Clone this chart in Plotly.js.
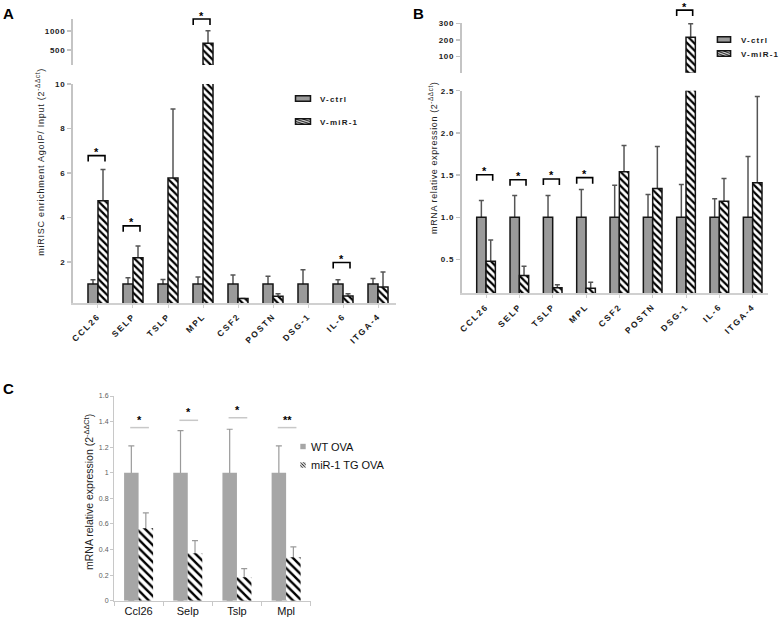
<!DOCTYPE html>
<html><head><meta charset="utf-8">
<script src="https://cdn.plot.ly/plotly-3.0.1.min.js"></script>
<style>
body{margin:0;padding:0;background:#fff}
#chart{width:780px;height:622px}
.xtick text,.x3tick text{letter-spacing:1.8px}
.ytick text,.y2tick text,.y3tick text,.y4tick text{letter-spacing:0.7px}
g.legend text, g.legend2 text{letter-spacing:1.2px}
g.annotation[data-index="3"] text{letter-spacing:0.75px}
g.annotation[data-index="4"] text{letter-spacing:0.6px}
.legendpoints path{vector-effect:non-scaling-stroke}
</style></head><body><div id="chart"></div>
<script>
// ---------- Panel A ----------
const catsA = ['CCL26','SELP','TSLP','MPL','CSF2','POSTN','DSG-1','IL-6','ITGA-4'];
const ctrlA = [1, 1, 1, 1, 1, 1, 1, 1, 1];
const ctrlErrA = [0.2, 0.29, 0.21, 0.32, 0.41, 0.35, 0.65, 0.2, 0.25];
const mirA = [4.75, 2.19, 5.77, 676, 0.35, 0.45, null, 0.46, 0.87];
const mirErrA = [1.4, 0.52, 3.1, 332, 0, 0.12, null, 0.11, 0.67];
const sigIdxA = [0, 1, 3, 7];
const sigYA = [6.78, 3.62, 1316, 1.97];
const sigSegA = ['low', 'low', 'up', 'low'];
const sigLabA = ['*', '*', '*', '*'];

// ---------- Panel B ----------
const catsB = ['CCL26','SELP','TSLP','MPL','CSF2','POSTN','DSG-1','IL-6','ITGA-4'];
const ctrlB = [1, 1, 1, 1, 1, 1, 1, 1, 1];
const ctrlErrB = [0.2, 0.26, 0.26, 0.33, 0.38, 0.27, 0.39, 0.22, 0.72];
const mirB = [0.48, 0.31, 0.165, 0.16, 1.54, 1.34, 216, 1.19, 1.41];
const mirErrB = [0.25, 0.11, 0.035, 0.07, 0.31, 0.5, 81, 0.27, 1.02];
const sigIdxB = [0, 1, 2, 3, 6];
const sigYB = [1.505, 1.445, 1.454, 1.47, 380];
const sigSegB = ['low', 'low', 'low', 'low', 'up'];
const sigLabB = ['*', '*', '*', '*', '*'];

// ---------- Panel C ----------
const catsC = ['Ccl26', 'Selp', 'Tslp', 'Mpl'];
const wtC = [1, 1, 1, 1];
const wtErrC = [0.21, 0.33, 0.34, 0.21];
const tgC = [0.566, 0.37, 0.183, 0.34];
const tgErrC = [0.12, 0.1, 0.067, 0.08];
const sigYC = [1.353, 1.41, 1.43, 1.353];
const sigLabC = ['*', '*', '*', '**'];

// ---------- geometry (pixels) ----------
const W = 780, H = 622;
const px = x => x / W, py = y => 1 - y / H;
const AX = {
  xA: {dom: [73, 396], range: [-0.714, 8.514]},
  yA: {dom: [303, 84], range: [0.15, 10]},
  yA2: {dom: [65, 19], range: [105, 1316]},
  xB: {dom: [461.7, 768], range: [-0.73, 8.46]},
  yB: {dom: [293.3, 90.7], range: [0.1, 2.5]},
  yB2: {dom: [72.7, 22.7], range: [3, 304]},
  xC: {dom: [114, 310.7], range: [-0.5, 3.5]},
  yC: {dom: [600.7, 396], range: [0, 1.6]}
};
function toPx(ax, v) {
  return ax.dom[0] + (v - ax.range[0]) / (ax.range[1] - ax.range[0]) * (ax.dom[1] - ax.dom[0]);
}
const xdom = a => [px(a.dom[0]), px(a.dom[1])];
const ydom = a => [py(a.dom[0]), py(a.dom[1])];

const FONT = 'Liberation Sans, Arial, sans-serif';
const axisGray = '#c4c4c4';
const idxA = catsA.map((_, i) => i);
const idxB = catsB.map((_, i) => i);
const idxC = catsC.map((_, i) => i);
// values shown in an upper (broken-axis) segment: only those reaching into it
const inUpper = (vals, lo) => vals.map(v => (v != null && v > lo) ? v : null);
// error bars run from the baseline up; the opaque bar drawn above hides the part inside it
const downTo0 = vals => vals.map(v => (v == null ? 0 : v));

// error-bar carrier (drawn first, underneath) + visible bar
function errCarrier(idx, vals, errs, xa, ya, w, off, col, th, cw) {
  return {type: 'bar', x: idx, y: vals, xaxis: xa, yaxis: ya, width: w, offset: off,
    showlegend: false, hoverinfo: 'skip', marker: {color: 'rgba(0,0,0,0)', line: {width: 0}},
    error_y: {type: 'data', array: errs, arrayminus: downTo0(vals), symmetric: false,
      color: col, thickness: th, width: cw}};
}

function barSet(idx, ctrl, ctrlErr, mir, mirErr, xa, ya, w, legendId, names, showLeg, grp) {
  const common = {type: 'bar', x: idx, xaxis: xa, yaxis: ya, width: w, legend: legendId, hoverinfo: 'skip'};
  return [
    errCarrier(idx, ctrl, ctrlErr, xa, ya, w, -w, '#555555', 1.5, 2.5),
    errCarrier(idx, mir, mirErr, xa, ya, w, 0, '#555555', 1.5, 2.5),
    Object.assign({}, common, {
      y: ctrl, name: names[0], offset: -w, showlegend: showLeg, legendgroup: grp + '1',
      marker: {color: '#9a9a9a', line: {color: '#151515', width: 1.5}}
    }),
    Object.assign({}, common, {
      y: mir, name: names[1], offset: 0, showlegend: showLeg, legendgroup: grp + '2',
      marker: {color: '#ffffff', line: {color: '#151515', width: 1.5},
        pattern: {shape: '\\', fgcolor: '#000000', bgcolor: '#ffffff', size: 5, solidity: 0.45}}
    })
  ];
}

const traces = [].concat(
  barSet(idxA, ctrlA, ctrlErrA, mirA, mirErrA, 'x', 'y', 0.286, 'legend', ['V-ctrl', 'V-miR-1'], true, 'a'),
  barSet(idxA, inUpper(ctrlA, AX.yA2.range[0]), ctrlErrA, inUpper(mirA, AX.yA2.range[0]), mirErrA,
    'x2', 'y2', 0.286, 'legend', ['V-ctrl', 'V-miR-1'], false, 'a'),
  barSet(idxB, ctrlB, ctrlErrB, mirB, mirErrB, 'x3', 'y3', 0.28, 'legend2', ['V-ctrl', 'V-miR-1'], true, 'b'),
  barSet(idxB, inUpper(ctrlB, AX.yB2.range[0]), ctrlErrB, inUpper(mirB, AX.yB2.range[0]), mirErrB,
    'x4', 'y4', 0.28, 'legend2', ['V-ctrl', 'V-miR-1'], false, 'b'),
  [
    errCarrier(idxC, wtC, wtErrC, 'x5', 'y5', 0.295, -0.295, '#9a9a9a', 1.2, 3),
    errCarrier(idxC, tgC, tgErrC, 'x5', 'y5', 0.295, 0, '#9a9a9a', 1.2, 3),
    {type: 'bar', x: idxC, y: wtC, xaxis: 'x5', yaxis: 'y5', width: 0.295, offset: -0.295,
      name: 'WT OVA', legend: 'legend3', legendgroup: 'c1', hoverinfo: 'skip',
      marker: {color: '#a6a6a6', line: {width: 0}}},
    {type: 'bar', x: idxC, y: tgC, xaxis: 'x5', yaxis: 'y5', width: 0.295, offset: 0,
      name: 'miR-1 TG OVA', legend: 'legend3', legendgroup: 'c2', hoverinfo: 'skip',
      marker: {color: '#ffffff', line: {width: 0},
        pattern: {shape: '\\', fgcolor: '#000000', bgcolor: '#ffffff', size: 6, solidity: 0.4}}}
  ]
);

const tickFontAB = {family: FONT, size: 8, color: '#1a1a1a', weight: 'bold'};
function yAxisAB(a, anchor, tickvals, fmt) {
  return {domain: ydom(a), range: a.range, anchor: anchor, showgrid: false, zeroline: false,
    showline: true, linecolor: axisGray, linewidth: 2, ticks: 'outside', ticklen: 4,
    tickcolor: axisGray, tickwidth: 1.5, tickvals: tickvals, tickformat: fmt || '',
    tickfont: tickFontAB, fixedrange: true};
}
function xAxisAB(a, anchor, idx, cats) {
  return {domain: xdom(a), range: a.range, anchor: anchor, showgrid: false, zeroline: false,
    showline: true, linecolor: '#d0d0d0', linewidth: 2, ticks: 'outside', ticklen: 3,
    tickcolor: '#d0d0d0', tickvals: idx, ticktext: cats, tickangle: -45,
    tickfont: {family: FONT, size: 8.5, color: '#1a1a1a', weight: 'bold'}, fixedrange: true};
}

// significance brackets / stars
const shapes = [];
const annotations = [
  {text: '<b>A</b>', x: px(8), y: py(14)},
  {text: '<b>B</b>', x: px(418), y: py(14)},
  {text: '<b>C</b>', x: px(8), y: py(388)},
  {text: 'miRISC enrichment AgoIP/ Input (2<sup>-ΔΔct</sup>)', x: px(40), y: py(162), textangle: -90,
    font: {family: FONT, size: 9, color: '#222'}},
  {text: 'mRNA relative expression (2<sup>-ΔΔct</sup>)', x: px(433), y: py(158), textangle: -90,
    font: {family: FONT, size: 9, color: '#222'}},
  {text: 'mRNA relative expression (2<sup>-ΔΔCt</sup>)', x: px(88), y: py(492), textangle: -90,
    font: {family: FONT, size: 10.5, color: '#222'}}
].map(a => Object.assign({xref: 'paper', yref: 'paper', showarrow: false, xanchor: 'center', yanchor: 'middle',
  font: {family: FONT, size: 15, color: '#000'}}, a));

const starFont = {family: FONT, size: 11, color: '#000', weight: 'bold'};
function addBrackets(idxs, ys, segs, labs, xa, yLow, yUp) {
  idxs.forEach((ci, k) => {
    const ya = segs[k] === 'up' ? yUp : yLow;
    const x0 = px(toPx(xa, ci - 0.28)), x1 = px(toPx(xa, ci + 0.2));
    const yb = toPx(ya, ys[k]);
    shapes.push({type: 'path', xref: 'paper', yref: 'paper',
      path: `M ${x0},${py(yb + 6)} L ${x0},${py(yb)} L ${x1},${py(yb)} L ${x1},${py(yb + 6)}`,
      line: {color: '#000', width: 1.6}});
    annotations.push({xref: 'paper', yref: 'paper', showarrow: false, xanchor: 'center', yanchor: 'middle',
      x: (x0 + x1) / 2, y: py(yb - 3.5), text: labs[k], font: starFont});
  });
}
addBrackets(sigIdxA, sigYA, sigSegA, sigLabA, AX.xA, AX.yA, AX.yA2);
addBrackets(sigIdxB, sigYB, sigSegB, sigLabB, AX.xB, AX.yB, AX.yB2);
idxC.forEach((ci, k) => {
  const x0 = px(toPx(AX.xC, ci - 0.17)), x1 = px(toPx(AX.xC, ci + 0.21));
  const yb = toPx(AX.yC, sigYC[k]);
  shapes.push({type: 'line', xref: 'paper', yref: 'paper', x0: x0, x1: x1, y0: py(yb), y1: py(yb),
    line: {color: '#c8c8c8', width: 1.5}});
  annotations.push({xref: 'paper', yref: 'paper', showarrow: false, xanchor: 'center', yanchor: 'middle',
    x: (x0 + x1) / 2, y: py(yb - 8), text: sigLabC[k], font: starFont});
});

const layout = {
  width: W, height: H, margin: {l: 0, r: 0, t: 0, b: 0},
  paper_bgcolor: '#fff', plot_bgcolor: 'rgba(0,0,0,0)', barmode: 'overlay',
  font: {family: FONT},
  xaxis: xAxisAB(AX.xA, 'y', idxA, catsA),
  yaxis: yAxisAB(AX.yA, 'x', [2, 4, 6, 8, 10]),
  xaxis2: {domain: xdom(AX.xA), range: AX.xA.range, anchor: 'y2', visible: false, fixedrange: true},
  yaxis2: yAxisAB(AX.yA2, 'x2', [500, 1000]),
  xaxis3: xAxisAB(AX.xB, 'y3', idxB, catsB),
  yaxis3: yAxisAB(AX.yB, 'x3', [0.5, 1, 1.5, 2, 2.5], '.1f'),
  xaxis4: {domain: xdom(AX.xB), range: AX.xB.range, anchor: 'y4', visible: false, fixedrange: true},
  yaxis4: yAxisAB(AX.yB2, 'x4', [100, 200, 300]),
  xaxis5: {domain: xdom(AX.xC), range: AX.xC.range, anchor: 'y5', showgrid: false, zeroline: false,
    showline: true, linecolor: '#c8c8c8', linewidth: 1, ticks: '', tickvals: idxC, ticktext: catsC,
    tickfont: {family: FONT, size: 11, color: '#111'},
    minor: {tickmode: 'array', tickvals: [-0.5, 0.5, 1.5, 2.5, 3.5], ticks: 'outside', ticklen: 4, tickcolor: '#c8c8c8'},
    fixedrange: true},
  yaxis5: {domain: ydom(AX.yC), range: AX.yC.range, anchor: 'x5', showgrid: false, zeroline: false,
    showline: true, linecolor: '#c8c8c8', linewidth: 1, ticks: 'outside', ticklen: 3, tickcolor: '#c8c8c8',
    dtick: 0.2, tick0: 0, tickfont: {family: FONT, size: 7, color: '#606060'}, fixedrange: true},
  legend: {x: px(283), y: py(84), xanchor: 'left', yanchor: 'top', bgcolor: 'rgba(0,0,0,0)',
    font: {family: FONT, size: 8, color: '#1a1a1a', weight: 'bold'}, tracegroupgap: 0, itemwidth: 30},
  legend2: {x: px(704), y: py(25), xanchor: 'left', yanchor: 'top', bgcolor: 'rgba(0,0,0,0)',
    font: {family: FONT, size: 8, color: '#1a1a1a', weight: 'bold'}, tracegroupgap: 0, itemwidth: 30},
  legend3: {x: px(283), y: py(432), xanchor: 'left', yanchor: 'top', bgcolor: 'rgba(0,0,0,0)',
    font: {family: FONT, size: 11, color: '#111'}, tracegroupgap: 0, itemwidth: 30},
  shapes: shapes,
  annotations: annotations
};

// legend fine-tuning: entry spacing, icon proportions, text start (page px)
const legendTweaks = {
  legend: {spacing: 23, scale: [1.25, 0.45], textLeft: 320},
  legend2: {spacing: 14, scale: [1.1, 0.45], textLeft: 741},
  legend3: {spacing: 18.5, scale: [0.45, 0.45], textLeft: 311}
};
function tweakLegends() {
  const host = document.getElementById('chart').getBoundingClientRect();
  Object.keys(legendTweaks).forEach(id => {
    const cfg = legendTweaks[id];
    const g = document.querySelector('g.' + id);
    if (!g) return;
    const items = g.querySelectorAll('g.traces');
    let y0 = null;
    items.forEach((it, k) => {
      const tr = it.getAttribute('transform') || '';
      const m = tr.match(/translate\(([-\d.]+)[ ,]+([-\d.]+)\)/);
      if (m) {
        if (y0 === null) y0 = parseFloat(m[2]);
        it.setAttribute('transform', `translate(${m[1]},${y0 + k * cfg.spacing})`);
      }
      it.querySelectorAll('.legendpoints path').forEach(p => {
        const t = p.getAttribute('transform') || '';
        p.setAttribute('transform', t + ` scale(${cfg.scale[0]},${cfg.scale[1]})`);
      });
      const txt = it.querySelector('text');
      if (txt) {
        const r = txt.getBoundingClientRect();
        if (r.width > 0) {
          const shift = cfg.textLeft - (r.left - host.left);
          const old = txt.getAttribute('transform') || '';
          txt.setAttribute('transform', `translate(${shift},0) ` + old);
        }
      }
    });
  });
}

Plotly.newPlot('chart', traces, layout, {displayModeBar: false, staticPlot: true}).then(tweakLegends);
</script></body></html>
